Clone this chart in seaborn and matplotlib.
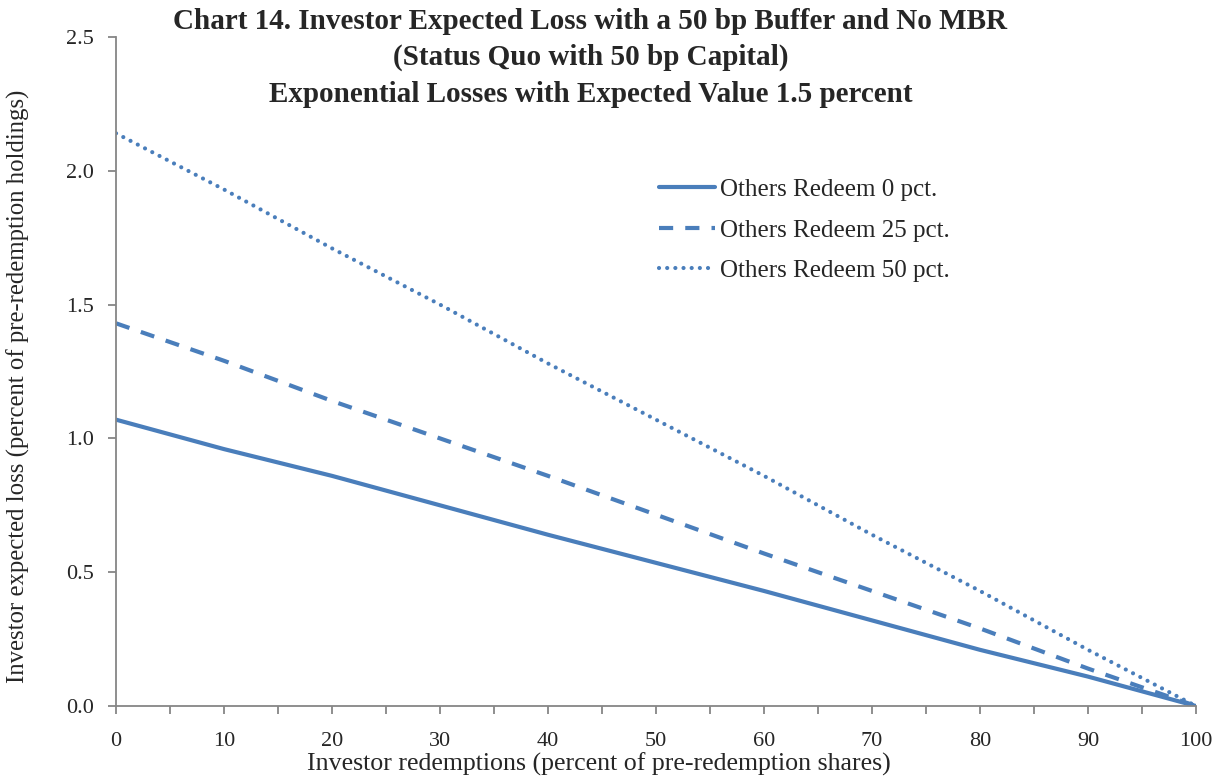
import matplotlib
matplotlib.use("Agg")
import matplotlib.pyplot as plt
import seaborn as sns
import pandas as pd
from matplotlib.ticker import MultipleLocator

# Values
redemptions = [0, 10, 20, 30, 40, 50, 60, 70, 80, 90, 100]
loss_0 = [1.07, 0.96, 0.86, 0.75, 0.64, 0.535, 0.43, 0.32, 0.21, 0.11, 0.0]
loss_25 = [1.43, 1.29, 1.14, 1.00, 0.86, 0.715, 0.57, 0.43, 0.29, 0.14, 0.0]
loss_50 = [2.14, 1.93, 1.71, 1.50, 1.28, 1.07, 0.86, 0.64, 0.43, 0.21, 0.0]
series_names = ["Others Redeem 0 pct.", "Others Redeem 25 pct.", "Others Redeem 50 pct."]

df = pd.DataFrame({
    "x": redemptions * 3,
    "y": loss_0 + loss_25 + loss_50,
    "series": [series_names[0]] * 11 + [series_names[1]] * 11 + [series_names[2]] * 11,
})

sns.set_style("white")
plt.rcParams["font.family"] = ["Liberation Serif", "DejaVu Serif"]

blue = "#4A7EBB"
axis_gray = "#868686"

fig = plt.figure(figsize=(12.2, 7.78), dpi=100)
ax = fig.add_axes([0.0951, 0.0925, 0.8852, 0.86])

styles = {series_names[0]: "-", series_names[1]: (0, (3.4, 2.9)), series_names[2]: (0, (0.01, 1.95))}
for name in series_names:
    sub = df[df["series"] == name]
    sns.lineplot(data=sub, x="x", y="y", ax=ax, color=blue, linewidth=3,
                 linestyle=styles[name], label=name,
                 dash_capstyle="round" if name == series_names[2] else "butt")

ax.set_xlim(0, 100)
ax.set_ylim(0, 2.5)
ax.xaxis.set_major_locator(MultipleLocator(10))
ax.xaxis.set_minor_locator(MultipleLocator(5))
ax.yaxis.set_major_locator(MultipleLocator(0.5))
ax.yaxis.set_major_formatter(matplotlib.ticker.FormatStrFormatter("%.1f"))

for s in ["top", "right"]:
    ax.spines[s].set_visible(False)
for s in ["left", "bottom"]:
    ax.spines[s].set_color(axis_gray)
    ax.spines[s].set_linewidth(1.3)

ax.tick_params(axis="x", which="both", direction="out", length=6, color=axis_gray,
               width=1.3, bottom=True, pad=13, labelsize=16)
ax.tick_params(axis="y", which="major", direction="out", length=6, color=axis_gray,
               width=1.3, left=True, pad=10, labelsize=16)

ax.set_xlabel("Investor redemptions (percent of pre-redemption shares)", fontsize=18.6)
ax.xaxis.set_label_coords(0.447, -0.069)
ax.set_ylabel("Investor expected loss (percent of pre-redemption holdings)", fontsize=17.8)
ax.yaxis.set_label_coords(-0.0796, 0.478)

leg = ax.legend(loc="upper left", bbox_to_anchor=(0.482, 0.822), frameon=False, fontsize=18,
                handlelength=2.25, handletextpad=0.17, labelspacing=0.72)

fig.text(0.484, 0.972, "Chart 14. Investor Expected Loss with a 50 bp Buffer and No MBR",
         ha="center", va="center", fontsize=21, fontweight="bold")
fig.text(0.484, 0.926, "(Status Quo with 50 bp Capital)",
         ha="center", va="center", fontsize=21, fontweight="bold")
fig.text(0.484, 0.878, "Exponential Losses with Expected Value 1.5 percent",
         ha="center", va="center", fontsize=21, fontweight="bold")

fig.savefig("out.png", dpi=100)
